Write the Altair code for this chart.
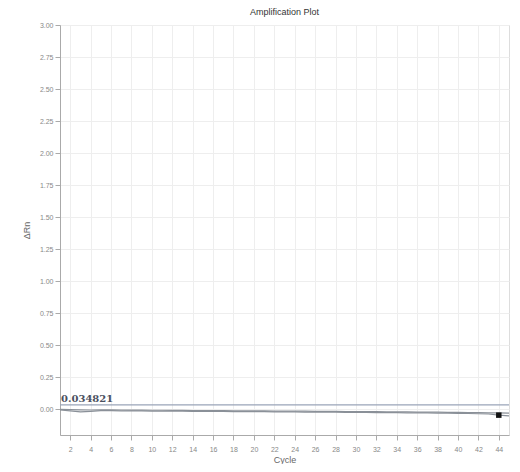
import altair as alt
import pandas as pd

cycles = list(range(1, 46))
series_a = [0.000, -0.002, -0.004, -0.005, -0.004, -0.004, -0.005, -0.006, -0.006, -0.007,
            -0.007, -0.008, -0.008, -0.009, -0.009, -0.010, -0.010, -0.011, -0.011, -0.012,
            -0.012, -0.013, -0.013, -0.014, -0.014, -0.015, -0.016, -0.016, -0.017, -0.017,
            -0.018, -0.018, -0.019, -0.020, -0.020, -0.021, -0.022, -0.022, -0.023, -0.024,
            -0.025, -0.026, -0.027, -0.028, -0.029]
series_b = [-0.005, -0.012, -0.020, -0.015, -0.010, -0.010, -0.011, -0.012, -0.012, -0.013,
            -0.013, -0.014, -0.014, -0.015, -0.015, -0.016, -0.016, -0.017, -0.017, -0.018,
            -0.018, -0.019, -0.019, -0.020, -0.021, -0.021, -0.022, -0.022, -0.023, -0.023,
            -0.024, -0.025, -0.025, -0.026, -0.027, -0.027, -0.028, -0.029, -0.030, -0.031,
            -0.032, -0.034, -0.036, -0.045, -0.050]
threshold = 0.034821
threshold_label = "0.034821"
x_ticks = list(range(2, 46, 2))
y_ticks = [0.0, 0.25, 0.5, 0.75, 1.0, 1.25, 1.5, 1.75, 2.0, 2.25, 2.5, 2.75, 3.0]

df = pd.DataFrame({
    "Cycle": cycles * 2,
    "dRn": series_a + series_b,
    "well": ["A"] * len(cycles) + ["B"] * len(cycles),
})

xs = alt.Scale(domain=[1, 45], nice=False, zero=False)
ys = alt.Scale(domain=[-0.2, 3.0], nice=False, zero=False)

xaxis = alt.Axis(values=x_ticks, title="Cycle")
yaxis = alt.Axis(values=y_ticks, format=".2f", title="ΔRn")

lines = alt.Chart(df).mark_line(strokeWidth=1.2).encode(
    x=alt.X("Cycle:Q", scale=xs, axis=xaxis),
    y=alt.Y("dRn:Q", scale=ys, axis=yaxis),
    detail="well:N",
    color=alt.value("#8a9098"),
)

thr_df = pd.DataFrame({"y": [threshold], "label": [threshold_label], "x": [1.1]})
thr = alt.Chart(thr_df).mark_rule(color="#9aa4b8", strokeWidth=1.2).encode(
    y=alt.Y("y:Q", scale=ys, axis=yaxis))
thr_text = alt.Chart(thr_df).mark_text(
    font="DejaVu Serif", fontWeight="bold", fontSize=10, color="#4a5060", align="left", baseline="bottom", dy=-1
).encode(x=alt.X("x:Q", scale=xs, axis=xaxis), y=alt.Y("y:Q", scale=ys, axis=yaxis), text="label:N")

end_df = pd.DataFrame({"Cycle": [cycles[-2]], "dRn": [series_b[-2]]})
end_pt = alt.Chart(end_df).mark_square(size=30, color="#111", opacity=1).encode(
    x=alt.X("Cycle:Q", scale=xs, axis=xaxis), y=alt.Y("dRn:Q", scale=ys, axis=yaxis))

chart = alt.layer(lines, thr, thr_text, end_pt).properties(
    width=504, height=456,
    autosize=alt.AutoSizeParams(type="fit", contains="padding"),
    title=alt.TitleParams("Amplification Plot", fontSize=9, fontWeight="normal", color="#333", offset=4),
    padding={"left": 14, "top": 0, "right": 0, "bottom": 0},
).configure_view(stroke=None).configure(background="white").configure_axis(
    labelFontSize=7, labelColor="#888", titleFontSize=9, titleFontWeight="normal", titleColor="#666",
    domainColor="#aaa", tickColor="#aaa", gridColor="#eee", grid=True,
    labelOverlap=False, labelFlush=False,
).configure_axisX(labelPadding=5, titlePadding=3).configure_axisY(titlePadding=8)

chart.save("out.html", embed_options={"renderer": "svg", "actions": False})
